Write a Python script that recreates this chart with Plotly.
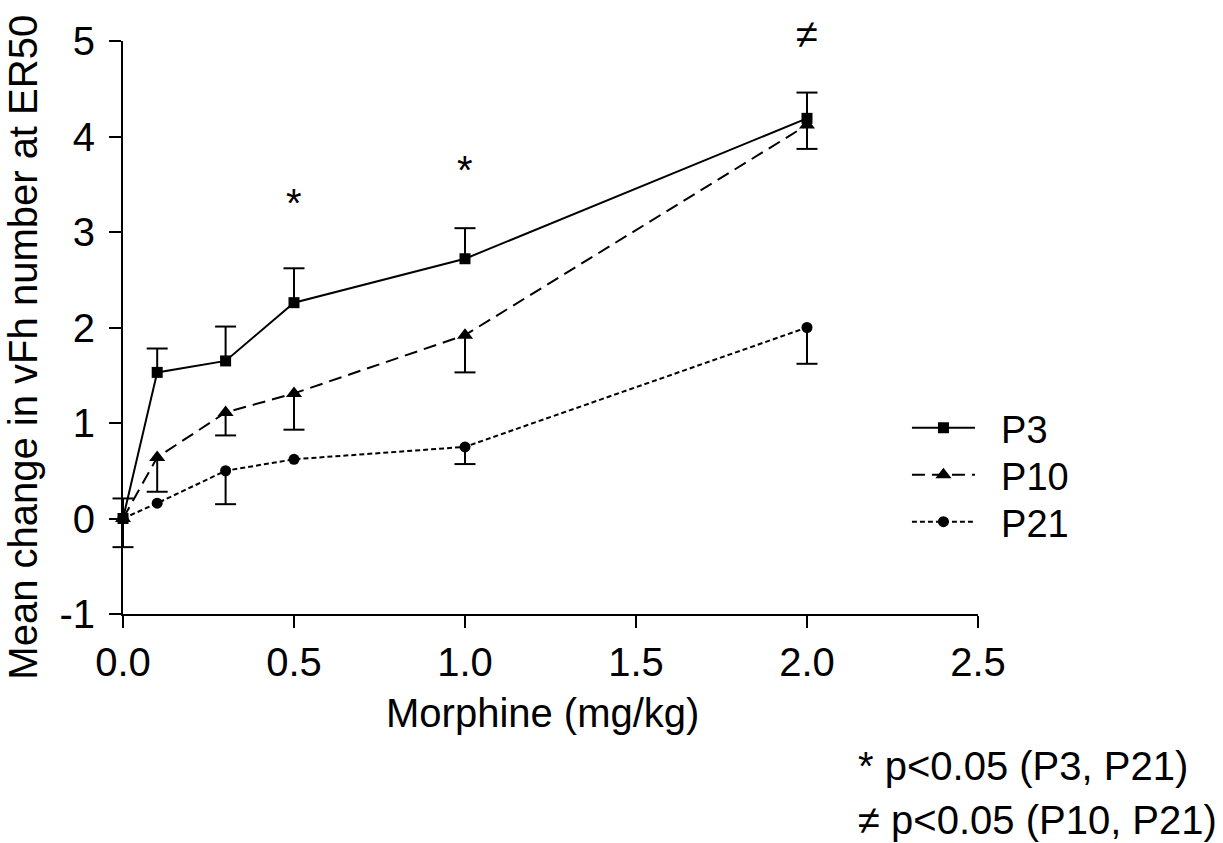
import plotly.graph_objects as go

# ---------------- data ----------------
dose = [0.0, 0.1, 0.3, 0.5, 1.0, 2.0]

p3 = [0.0, 1.53, 1.65, 2.26, 2.72, 4.19]
p3_err_up = [0.21, 0.25, 0.36, 0.36, 0.32, 0.27]

p10 = [0.0, 0.64, 1.11, 1.31, 1.92, 4.12]
p10_err_down = [0.0, 0.36, 0.24, 0.38, 0.39, 0.25]

p21 = [0.0, 0.16, 0.50, 0.62, 0.75, 2.00]
p21_err_down = [0.30, 0.0, 0.35, 0.0, 0.18, 0.38]

x_tickvals = [0.0, 0.5, 1.0, 1.5, 2.0, 2.5]
x_ticktext = ["0.0", "0.5", "1.0", "1.5", "2.0", "2.5"]
y_tickvals = [-1, 0, 1, 2, 3, 4, 5]
y_ticktext = ["-1", "0", "1", "2", "3", "4", "5"]

star_x = [0.5, 1.0]
star_y = [3.30, 3.65]
neq_x = [2.0]

series_names = ["P3", "P10", "P21"]
notes = ["* p<0.05 (P3, P21)", "\u2260 p<0.05 (P10, P21)"]
x_title = "Morphine (mg/kg)"
y_title = "Mean change in vFh number at ER50"

# ---------------- style ----------------
FONT = "Liberation Sans, Arial, Helvetica, sans-serif"
FS = 40
BLACK = "black"
LW = 2
NB = "\u00a0\u00a0"

fig = go.Figure()


def add_errorbars(xs, ys, errs, direction):
    vx, vy, cx, cy = [], [], [], []
    for x, y, e in zip(xs, ys, errs):
        if e <= 0:
            continue
        end = y + direction * e
        vx += [x, x, None]
        vy += [y, end, None]
        cx.append(x)
        cy.append(end)
    fig.add_trace(go.Scatter(x=vx, y=vy, mode="lines",
                             line=dict(color=BLACK, width=LW),
                             showlegend=False, hoverinfo="skip",
                             cliponaxis=False))
    fig.add_trace(go.Scatter(x=cx, y=cy, mode="markers",
                             marker=dict(symbol="line-ew", size=15,
                                         line=dict(color=BLACK, width=LW)),
                             showlegend=False, hoverinfo="skip",
                             cliponaxis=False))


add_errorbars(dose, p3, p3_err_up, +1)
add_errorbars(dose, p10, p10_err_down, -1)
add_errorbars(dose, p21, p21_err_down, -1)

fig.add_trace(go.Scatter(x=dose, y=p3, name=NB + series_names[0], mode="lines+markers",
                         line=dict(color=BLACK, width=LW),
                         marker=dict(symbol="square", size=11, color=BLACK),
                         cliponaxis=False, legend="legend"))
fig.add_trace(go.Scatter(x=dose, y=p10, name=NB + series_names[1], mode="lines+markers",
                         line=dict(color=BLACK, width=LW, dash="13px,7px"),
                         marker=dict(symbol="triangle-up", size=14, color=BLACK),
                         cliponaxis=False, legend="legend2"))
fig.add_trace(go.Scatter(x=dose, y=p21, name=NB + series_names[2], mode="lines+markers",
                         line=dict(color=BLACK, width=LW, dash="5px,3px"),
                         marker=dict(symbol="circle", size=11, color=BLACK),
                         cliponaxis=False, legend="legend3"))

annotations = []
for sx, sy in zip(star_x, star_y):
    annotations.append(dict(x=sx, y=sy, xref="x", yref="y", text="*", showarrow=False,
                            font=dict(family=FONT, size=FS, color=BLACK)))
for nx in neq_x:
    annotations.append(dict(x=nx, y=1.012, xref="x", yref="paper", text="\u2260",
                            showarrow=False, yanchor="middle",
                            font=dict(family=FONT, size=FS, color=BLACK)))

annotations.append(dict(x=0.491, y=-0.172, xref="paper", yref="paper", text=x_title,
                        showarrow=False, xanchor="center", yanchor="middle",
                        font=dict(family=FONT, size=FS, color=BLACK)))
annotations.append(dict(x=-0.118, y=0.465, xref="paper", yref="paper", text=y_title,
                        textangle=-90, showarrow=False, xanchor="center", yanchor="middle",
                        font=dict(family=FONT, size=FS, color=BLACK)))
annotations.append(dict(x=0.857, y=-0.265, xref="paper", yref="paper", text=notes[0],
                        showarrow=False, xanchor="left", yanchor="middle",
                        font=dict(family=FONT, size=FS, color=BLACK)))
annotations.append(dict(x=0.857, y=-0.36, xref="paper", yref="paper", text=notes[1],
                        showarrow=False, xanchor="left", yanchor="middle",
                        font=dict(family=FONT, size=FS, color=BLACK)))

axis_common = dict(showline=True, linecolor=BLACK, linewidth=LW, ticks="outside",
                   ticklen=12, tickwidth=LW, tickcolor=BLACK, showgrid=False,
                   zeroline=False, tickfont=dict(family=FONT, size=FS, color=BLACK))

legend_common = dict(xanchor="left", yanchor="middle", itemwidth=63,
                     bgcolor="rgba(0,0,0,0)", borderwidth=0,
                     font=dict(family=FONT, size=38, color=BLACK))
LEG_X = 0.9169

fig.update_layout(
    width=1223, height=843,
    paper_bgcolor="white", plot_bgcolor="white",
    margin=dict(l=123, r=245, t=41, b=229, autoexpand=False),
    font=dict(family=FONT, size=FS, color=BLACK),
    xaxis=dict(range=[0, 2.5], tickvals=x_tickvals, ticktext=x_ticktext, **axis_common),
    yaxis=dict(range=[-1, 5], tickvals=y_tickvals, ticktext=y_ticktext,
               ticklabelstandoff=6, **axis_common),
    legend=dict(x=LEG_X, y=0.3246, **legend_common),
    legend2=dict(x=LEG_X, y=0.2426, **legend_common),
    legend3=dict(x=LEG_X, y=0.1606, **legend_common),
    annotations=annotations,
    showlegend=True,
)

fig.write_html("out.html")
